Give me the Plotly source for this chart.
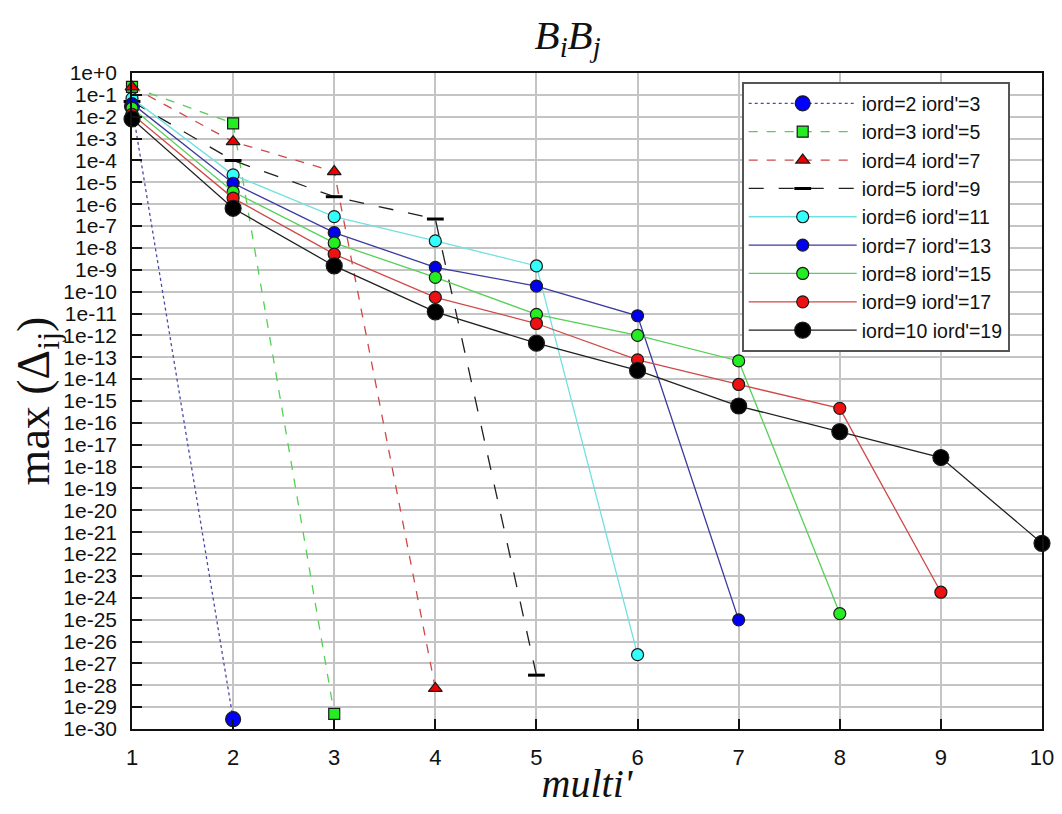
import plotly.graph_objects as go

multi = [1, 2, 3, 4, 5, 6, 7, 8, 9, 10]

labels = ["iord=2 iord'=3", "iord=3 iord'=5", "iord=4 iord'=7", "iord=5 iord'=9",
          "iord=6 iord'=11", "iord=7 iord'=13", "iord=8 iord'=15", "iord=9 iord'=17",
          "iord=10 iord'=19"]

y_iord2 = [3.0e-2, 2.8e-30]
y_iord3 = [2.3e-1, 5.0e-3, 4.9e-30]
y_iord4 = [2.3e-1, 7.2e-4, 3.1e-5, 7.2e-29]
y_iord5 = [5.0e-2, 1.0e-4, 2.2e-6, 2.1e-7, 2.9e-28]
y_iord6 = [6.9e-2, 2.2e-5, 2.7e-7, 2.1e-8, 1.5e-9, 2.5e-27]
y_iord7 = [4.0e-2, 9.1e-6, 5.0e-8, 1.3e-9, 1.8e-10, 7.9e-12, 9.8e-26]
y_iord8 = [2.5e-2, 3.7e-6, 1.7e-8, 4.5e-10, 9.1e-12, 1.0e-12, 6.8e-14, 1.9e-25]
y_iord9 = [1.3e-2, 1.9e-6, 5.2e-9, 5.5e-11, 3.5e-12, 7.6e-14, 5.7e-15, 4.6e-16, 1.8e-24]
y_iord10 = [7.9e-3, 6.5e-7, 1.5e-9, 1.2e-11, 4.4e-13, 2.5e-14, 5.9e-16, 4.0e-17, 2.6e-18, 3.1e-22]

series = [y_iord2, y_iord3, y_iord4, y_iord5, y_iord6, y_iord7, y_iord8, y_iord9, y_iord10]

line_colors = ["#4a4aa8", "#55d055", "#d04848", "#202020", "#70e0e0", "#3a3aa0", "#55d055", "#d04848", "#202020"]
dashes = ["dot", "dash", "dash", "longdash", "solid", "solid", "solid", "solid", "solid"]
marker_colors = ["#0000ff", "#22ee22", "#ee0000", "#000000", "#33ffff", "#0000ee", "#22ee22", "#ee1111", "#000000"]
symbols = ["circle", "square", "triangle-up", "line-ew", "circle", "circle", "circle", "circle", "circle"]
sizes = [15, 11, 12, 12, 12, 12, 12, 12, 16]

y_ticks = [10.0 ** (-k) for k in range(0, 31)]
y_ticktext = ["1e+0"] + ["1e-%d" % k for k in range(1, 31)]

fig = go.Figure()
for name, ys, lc, dsh, mc, sym, sz in zip(labels, series, line_colors, dashes, marker_colors, symbols, sizes):
    xs = multi[:len(ys)]
    if sym == "line-ew":
        marker = dict(symbol=sym, size=sz, line=dict(color="#000000", width=3))
    else:
        marker = dict(symbol=sym, size=sz, color=mc, line=dict(color="#1a1a1a", width=1.2))
    fig.add_trace(go.Scatter(
        x=xs, y=ys, name=name, mode="lines+markers",
        line=dict(color=lc, width=1.3, dash=dsh),
        marker=marker, cliponaxis=False,
    ))

# page body adds an 8px offset; figure sized to fit the 1062x814 window
fig.update_layout(
    width=1046, height=798,
    paper_bgcolor="white", plot_bgcolor="white",
    margin=dict(l=124, r=12, t=65, b=77, pad=0),
    title=dict(text="<i>B<sub>i</sub>B<sub>j</sub></i>", x=0.535, xanchor="center",
               y=0.985, yanchor="top",
               font=dict(family="Liberation Serif", size=41, color="#111111")),
    showlegend=True,
    legend=dict(x=0.67, y=0.986, xanchor="left", yanchor="top",
                bgcolor="white", bordercolor="#555555", borderwidth=2,
                font=dict(family="Liberation Sans", size=19.5, color="#111111"),
                itemwidth=108, tracegroupgap=0),
    font=dict(family="Liberation Sans", color="#111111"),
)

fig.update_xaxes(
    range=[1, 10], tickvals=multi, ticktext=[str(v) for v in multi],
    showgrid=True, gridcolor="#c4c4c4", gridwidth=1.8,
    ticks="inside", ticklen=10, tickwidth=1.5, tickcolor="#111111",
    showline=True, linecolor="#111111", linewidth=1.6, mirror=True,
    tickfont=dict(family="Liberation Sans", size=22, color="#111111"),
    ticklabelstandoff=8, ticklabeloverflow="allow",
    title=dict(text="<i>multi'</i>", font=dict(family="Liberation Serif", size=40, color="#111111"),
               standoff=10),
    zeroline=False, automargin=False,
)
fig.update_yaxes(
    type="log", range=[-30, 0], tickvals=y_ticks, ticktext=y_ticktext,
    showgrid=True, gridcolor="#c4c4c4", gridwidth=1.8,
    ticks="inside", ticklen=10, tickwidth=1.5, tickcolor="#111111",
    showline=True, linecolor="#111111", linewidth=1.6, mirror=True,
    tickfont=dict(family="Liberation Sans", size=21, color="#111111"),
    ticklabelstandoff=9,
    title=dict(text="max (Δ<sub>ij</sub>)", font=dict(family="Liberation Serif", size=46, color="#111111"),
               standoff=2),
    zeroline=False, automargin=False,
)

fig.write_html("out.html")
